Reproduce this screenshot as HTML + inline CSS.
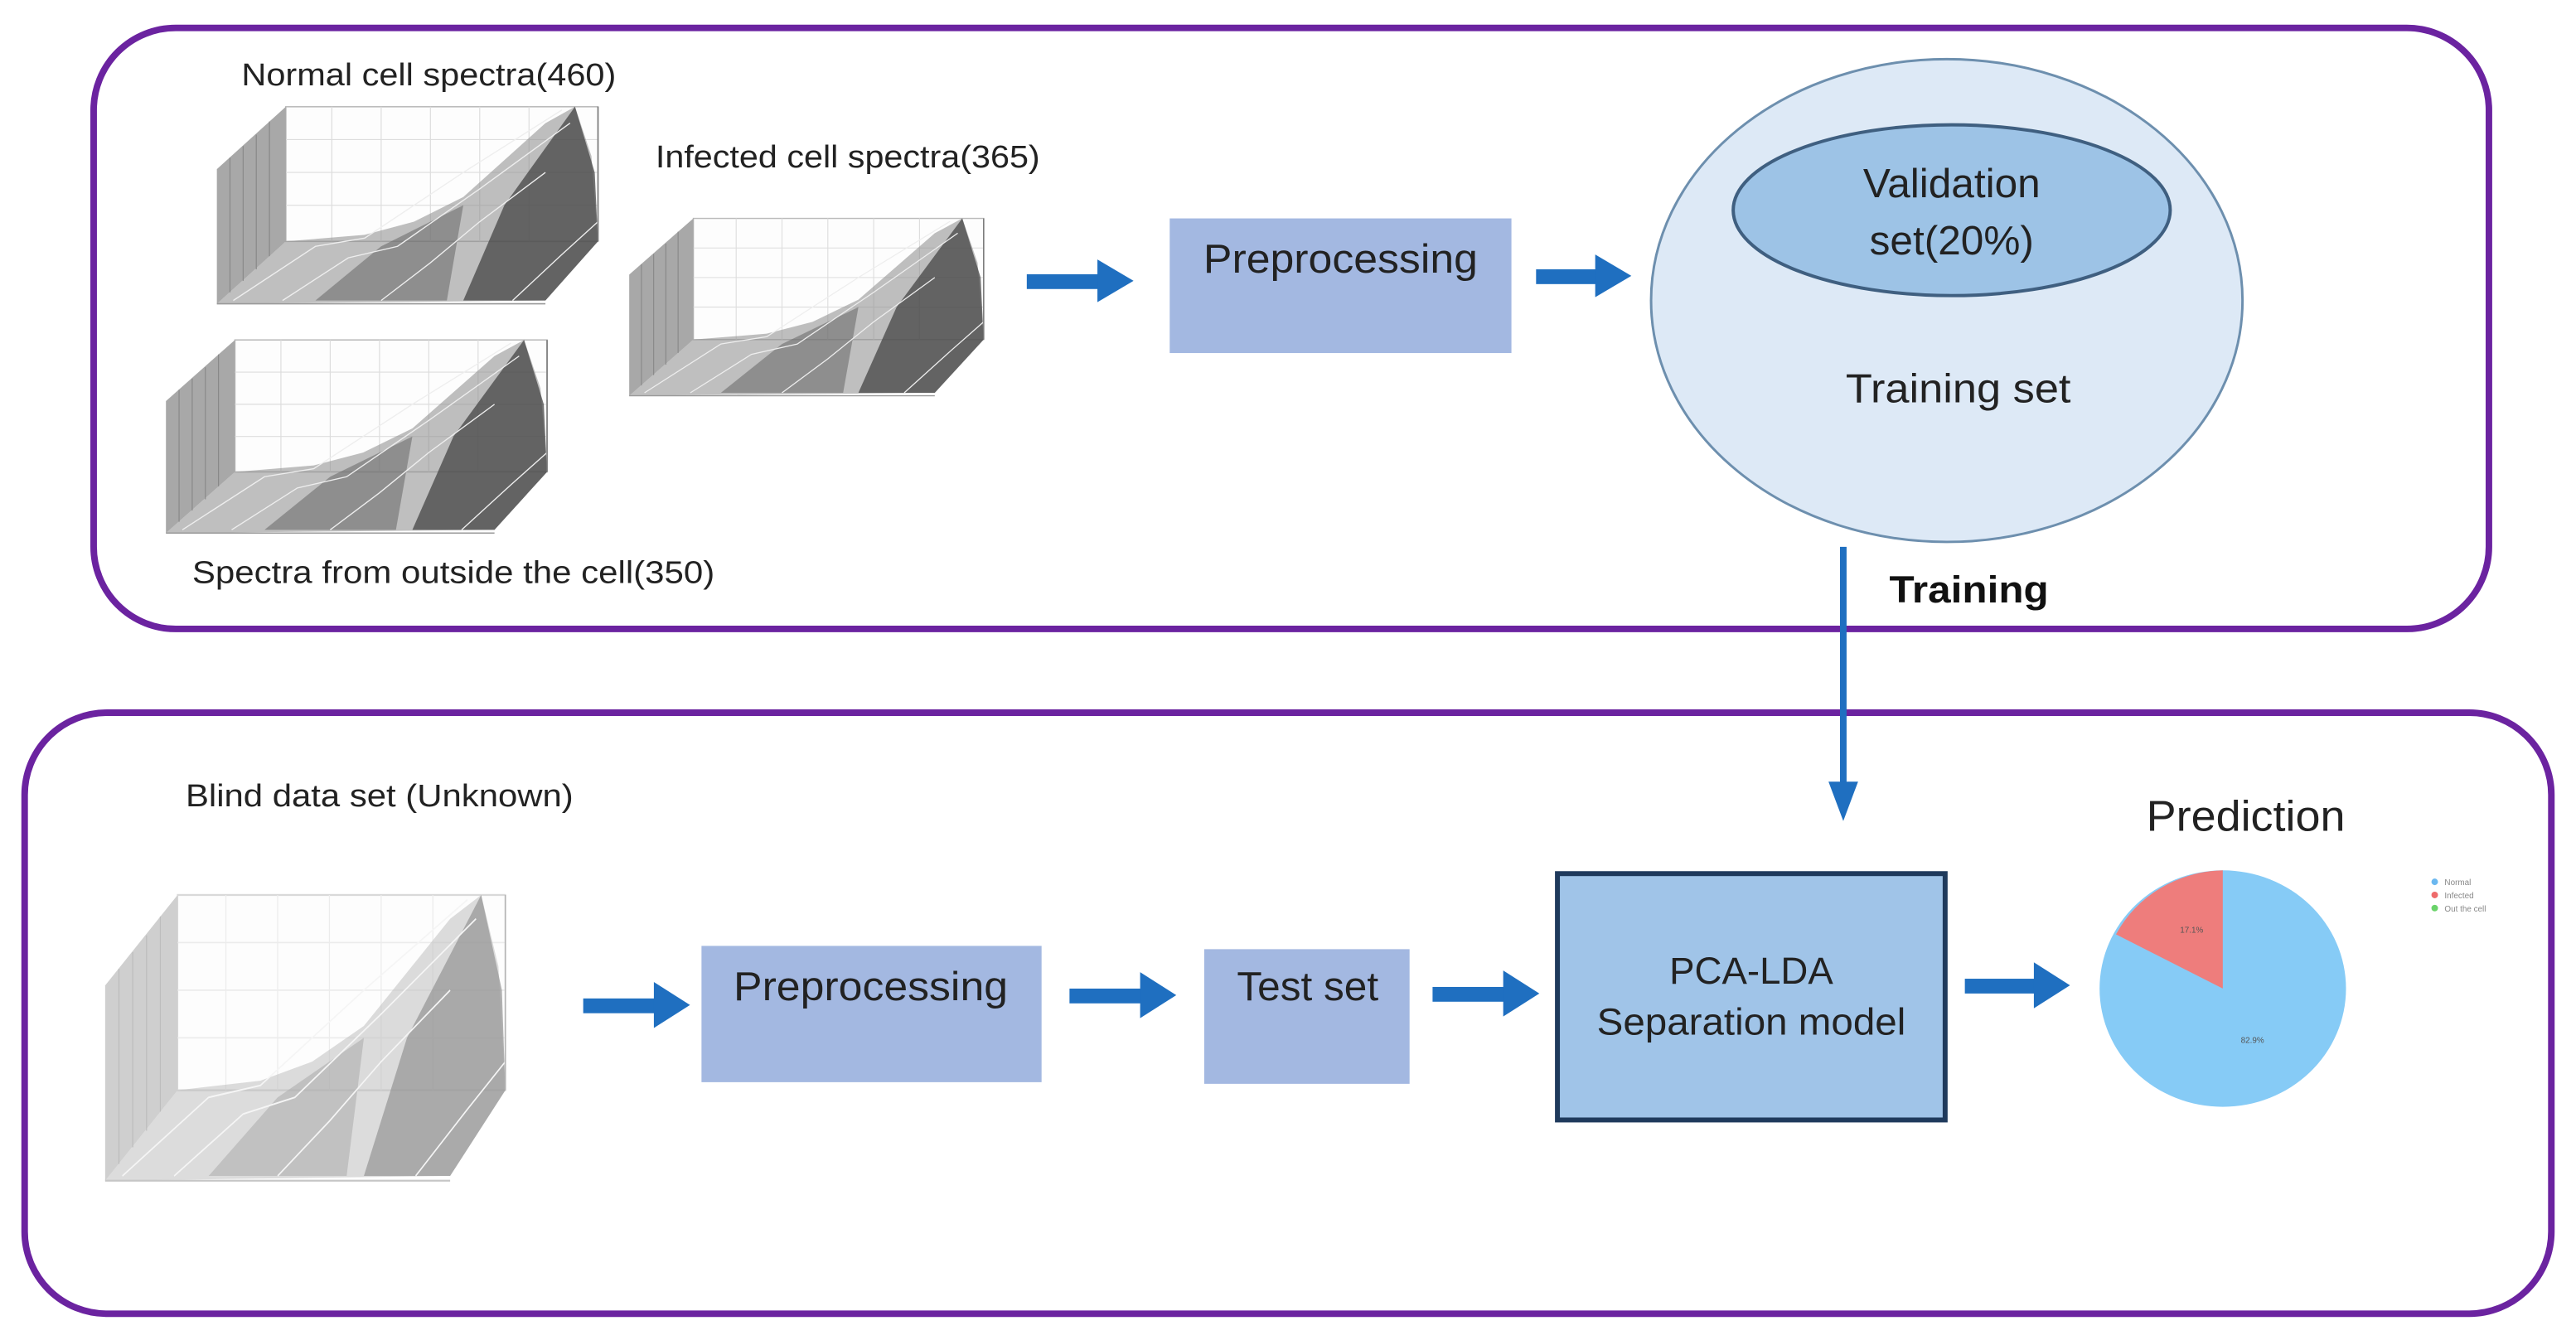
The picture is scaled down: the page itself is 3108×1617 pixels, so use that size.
<!DOCTYPE html>
<html><head><meta charset="utf-8"><style>
html,body{margin:0;padding:0;background:#fff;}
svg{display:block;}
text{font-family:"Liberation Sans",sans-serif;}
</style></head><body>
<svg width="3108" height="1617" viewBox="0 0 1568 816" preserveAspectRatio="none" xmlns="http://www.w3.org/2000/svg">
<defs>
<g id="plot">
  <rect x="42" y="0" width="190" height="82" fill="#fdfdfd" stroke="#bbb" stroke-width="0.8"/>
  <g stroke="#ddd" stroke-width="0.6">
    <line x1="70" y1="0" x2="70" y2="82"/><line x1="100" y1="0" x2="100" y2="82"/><line x1="130" y1="0" x2="130" y2="82"/><line x1="160" y1="0" x2="160" y2="82"/><line x1="190" y1="0" x2="190" y2="82"/>
    <line x1="42" y1="20" x2="232" y2="20"/><line x1="42" y1="40" x2="232" y2="40"/><line x1="42" y1="60" x2="232" y2="60"/>
  </g>
  <polygon points="0,38 42,0 42,82 0,120" fill="#a8a8a8"/>
  <g stroke="#888" stroke-width="0.6">
    <line x1="8" y1="31" x2="8" y2="113"/><line x1="16" y1="24" x2="16" y2="106"/><line x1="24" y1="17" x2="24" y2="99"/><line x1="32" y1="9" x2="32" y2="91"/>
  </g>
  <polygon points="0,120 42,82 90,78 120,70 150,55 200,10 218,0 228,30 232,82 200,118" fill="#8a8a8a" opacity="0.55"/>
  <polygon points="150,118 175,60 218,0 230,40 232,82 200,118" fill="#444" opacity="0.75"/>
  <polygon points="60,118 100,85 130,70 150,60 140,118" fill="#666" opacity="0.55"/>
  <g stroke="#eee" stroke-width="0.7" fill="none">
    <polyline points="10,118 60,85 90,80 150,40 210,2"/>
    <polyline points="40,118 80,92 110,85 160,50 215,10"/>
    <polyline points="100,118 130,95 160,70 200,40"/>
    <polyline points="180,118 210,90 232,70"/>
  </g>
  <line x1="232" y1="0" x2="232" y2="82" stroke="#777" stroke-width="0.8"/>
  <line x1="0" y1="120" x2="200" y2="120" stroke="#999" stroke-width="0.8"/>
</g>
</defs>

<rect x="57" y="17" width="1458" height="366" rx="50" ry="50" fill="none" stroke="#6b23a0" stroke-width="4"/>
<rect x="15" y="434" width="1538" height="366" rx="50" ry="50" fill="none" stroke="#6b23a0" stroke-width="4"/>

<text x="147" y="52" font-size="19" fill="#222" textLength="228" lengthAdjust="spacingAndGlyphs">Normal cell spectra(460)</text>
<text x="399" y="102" font-size="19" fill="#222" textLength="234" lengthAdjust="spacingAndGlyphs">Infected cell spectra(365)</text>
<text x="117" y="355" font-size="19" fill="#222" textLength="318" lengthAdjust="spacingAndGlyphs">Spectra from outside the cell(350)</text>

<use href="#plot" transform="translate(132,65) scale(1.0,1.0)"/>
<use href="#plot" transform="translate(383,133) scale(0.93,0.9)"/>
<use href="#plot" transform="translate(101,207) scale(1.0,0.98)"/>
<g opacity="0.55"><use href="#plot" transform="translate(64,545) scale(1.05,1.45)"/></g>

<g fill="#1f6fc0">
  <rect x="625" y="167" width="45" height="9"/><polygon points="668,158 690,171 668,184"/>
  <rect x="935" y="164" width="38" height="9"/><polygon points="971,155 993,168 971,181"/>
  <rect x="355" y="608" width="45" height="9"/><polygon points="398,598 420,612 398,626"/>
  <rect x="651" y="602" width="45" height="9"/><polygon points="694,592 716,606 694,620"/>
  <rect x="872" y="601" width="45" height="9"/><polygon points="915,591 937,605 915,619"/>
  <rect x="1196" y="596" width="44" height="9"/><polygon points="1238,586 1260,600 1238,614"/>
  <rect x="1120" y="333" width="4" height="145"/><polygon points="1113,476 1131,476 1122,500"/>
</g>

<rect x="712" y="133" width="208" height="82" fill="#a3b8e1"/>
<text x="816" y="166" font-size="25" fill="#222" text-anchor="middle" textLength="167" lengthAdjust="spacingAndGlyphs">Preprocessing</text>

<ellipse cx="1185" cy="183" rx="180" ry="147" fill="#dde9f6" stroke="#6d8fae" stroke-width="1.5"/>
<ellipse cx="1188" cy="128" rx="133" ry="52" fill="#9dc3e6" stroke="#3f5f80" stroke-width="2"/>
<text x="1188" y="120" font-size="25" fill="#222" text-anchor="middle">Validation</text>
<text x="1188" y="155" font-size="25" fill="#222" text-anchor="middle">set(20%)</text>
<text x="1192" y="245" font-size="25" fill="#222" text-anchor="middle" textLength="137" lengthAdjust="spacingAndGlyphs">Training set</text>
<text x="1150" y="367" font-size="23" font-weight="bold" fill="#111" textLength="97" lengthAdjust="spacingAndGlyphs">Training</text>

<text x="113" y="491" font-size="19" fill="#222" textLength="236" lengthAdjust="spacingAndGlyphs">Blind data set (Unknown)</text>

<rect x="427" y="576" width="207" height="83" fill="#a3b8e1"/>
<text x="530" y="609" font-size="25" fill="#222" text-anchor="middle" textLength="167" lengthAdjust="spacingAndGlyphs">Preprocessing</text>
<rect x="733" y="578" width="125" height="82" fill="#a3b8e1"/>
<text x="796" y="609" font-size="25" fill="#222" text-anchor="middle">Test set</text>

<rect x="948" y="532" width="236" height="150" fill="#a0c4e8" stroke="#1f3a5c" stroke-width="3"/>
<text x="1066" y="599" font-size="23" fill="#222" text-anchor="middle">PCA-LDA</text>
<text x="1066" y="630" font-size="23" fill="#222" text-anchor="middle" textLength="188" lengthAdjust="spacingAndGlyphs">Separation model</text>

<text x="1367" y="506" font-size="26" fill="#222" text-anchor="middle" textLength="121" lengthAdjust="spacingAndGlyphs">Prediction</text>
<ellipse cx="1353" cy="602" rx="75" ry="72" fill="#86cbf6"/>
<path d="M1353,602 L1353,530 A75,72 0 0 0 1288,569 Z" fill="#ee7d7c"/>
<text x="1327" y="568" font-size="5" fill="#555">17.1%</text>
<text x="1364" y="635" font-size="5" fill="#555">82.9%</text>
<circle cx="1482" cy="537" r="2" fill="#6bb8f0"/>
<circle cx="1482" cy="545" r="2" fill="#ee6b6b"/>
<circle cx="1482" cy="553" r="2" fill="#6ad36a"/>
<text x="1488" y="539" font-size="5" fill="#888">Normal</text>
<text x="1488" y="547" font-size="5" fill="#888">Infected</text>
<text x="1488" y="555" font-size="5" fill="#888">Out the cell</text>
</svg>
</body></html>
